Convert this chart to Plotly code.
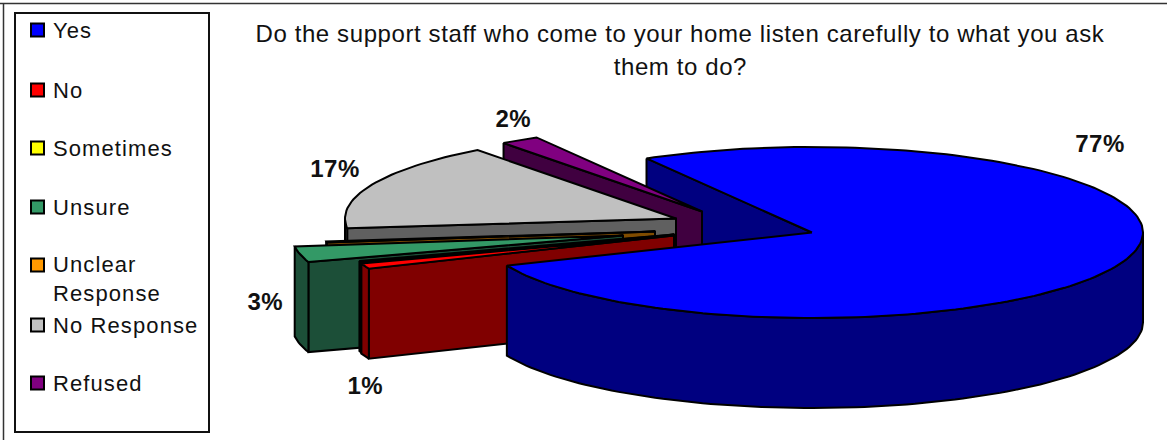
import json
import math
import plotly.graph_objects as go

categories = ["Yes", "No", "Sometimes", "Unsure", "Unclear<br>Response", "No Response", "Refused"]
values = [77.0, 1.0, 0.3, 3.0, 0.2, 16.6, 1.9]

labels = ["77%", "1%", "", "3%", "", "17%", "2%"]
title_lines = ["Do the support staff who come to your home listen carefully to what you ask", "them to do?"]

top_colors = ["#0000FF", "#FF0000", "#FFFF00", "#339966", "#FF9900", "#C0C0C0", "#800080"]
side_colors = ["#000080", "#800000", "#808000", "#1C4F38", "#804C00", "#606060", "#400040"]

# layout of the drawing (pixels)
CX, CY, RX, RY, DEPTH = 812, 232.5, 331, 85.5, 90
START = 330
pull = [(0, 0), (-138, 3), (-138, 2), (-189, 3), (-157, -1), (-136, -14), (-110, -21)]
draw_order = [6, 5, 4, 3, 2, 1, 0]
label_pos = [(1100, 143), (365, 385), None, (265, 301), None, (335, 168), (513, 118)]
legend_y = [30, 90, 148, 207, 265, 325, 383]
legend_text_y = [30, 90, 148, 207, 279, 325, 383]
FONT = "Liberation Sans"
INK = "#111111"

fig = go.Figure()


def edge(tip, a):
    r = math.radians(a)
    return (tip[0] + RX * math.sin(r), tip[1] - RY * math.cos(r))


def arc(tip, a0, a1):
    n = max(2, int(abs(a1 - a0) / 1.5) + 2)
    return [edge(tip, a0 + (a1 - a0) * i / (n - 1)) for i in range(n)]


def poly(points, color, name):
    xs = [p[0] for p in points] + [points[0][0]]
    ys = [p[1] for p in points] + [points[0][1]]
    fig.add_trace(go.Scatter(x=xs, y=ys, mode="lines", fill="toself", fillcolor=color,
                             line=dict(color="#000000", width=2), name=name,
                             hoverinfo="name", showlegend=False))


def down(points):
    return [(x, y + DEPTH) for x, y in points]


# slice angle ranges from the values
total = sum(values)
ranges = []
a = START
for v in values:
    ranges.append((a, a + v / total * 360))
    a += v / total * 360

tips = [(CX + dx, CY + dy) for dx, dy in pull]
names = [c.replace("<br>", " ") for c in categories]

# inner cut face of the large slice sits behind everything
e0 = edge(tips[0], ranges[0][0])
poly([e0, tips[0], (tips[0][0], tips[0][1] + DEPTH), (e0[0], e0[1] + DEPTH)], side_colors[0], names[0])

for i in draw_order:
    a0, a1 = ranges[i]
    tip = tips[i]
    if i != 0:
        e = edge(tip, a0)
        poly([e, tip, (tip[0], tip[1] + DEPTH), (e[0], e[1] + DEPTH)], side_colors[i], names[i])
    # outer wall, only where it faces the viewer
    for shift in (0, 360):
        w0, w1 = max(a0, 90 + shift), min(a1, 270 + shift)
        if w1 > w0:
            top = arc(tip, w0, w1)
            poly(top + down(top)[::-1], side_colors[i], names[i])
    poly([tip] + arc(tip, a0, a1), top_colors[i], names[i])

# legend swatches
fig.add_trace(go.Scatter(x=[37.5] * len(categories), y=legend_y, mode="markers",
                         marker=dict(symbol="square", size=13, color=top_colors,
                                     line=dict(color="#000000", width=2)),
                         hoverinfo="skip", showlegend=False))

ann = []
spacing = []
for name, y in zip(categories, legend_text_y):
    ann.append(dict(x=51, y=y, text=name, xanchor="left", yanchor="middle", showarrow=False,
                    align="left", font=dict(family=FONT, size=22, color=INK)))
    spacing.append(1.1)
for lab, pos in zip(labels, label_pos):
    if pos:
        ann.append(dict(x=pos[0], y=pos[1], text="<b>%s</b>" % lab, showarrow=False,
                        xanchor="center", yanchor="middle", font=dict(family=FONT, size=24, color=INK)))
        spacing.append(0.5)
for line, y in zip(title_lines, (33, 66)):
    ann.append(dict(x=680, y=y, text=line, showarrow=False, xanchor="center", yanchor="middle",
                    align="center", font=dict(family=FONT, size=24, color=INK)))
    spacing.append(0.6)

lines = [
    dict(type="line", x0=0, x1=1167, y0=3.5, y1=3.5, line=dict(color="#333333", width=1.5), layer="below"),
    dict(type="line", x0=3.5, x1=3.5, y0=3.5, y1=440, line=dict(color="#333333", width=1.5), layer="below"),
    dict(type="rect", x0=15, y0=13, x1=209, y1=432, line=dict(color="#111111", width=2), layer="below"),
]

fig.update_layout(
    width=1167, height=440, autosize=False,
    margin=dict(l=0, r=0, t=0, b=0),
    paper_bgcolor="#FFFFFF", plot_bgcolor="#FFFFFF",
    xaxis=dict(range=[0, 1167], visible=False, fixedrange=True),
    yaxis=dict(range=[440, 0], visible=False, fixedrange=True),
    annotations=ann, shapes=lines, showlegend=False,
)

post = """
document.body.style.margin='0';
var sp = %s;
document.querySelectorAll('.annotation').forEach(function(a){
  var i = +a.getAttribute('data-index');
  var t = a.querySelector('.annotation-text');
  if (t) { t.style.letterSpacing = sp[i] + 'px'; }
});
""" % json.dumps(spacing)
fig.write_html("out.html", post_script=post, config={"displayModeBar": False})
